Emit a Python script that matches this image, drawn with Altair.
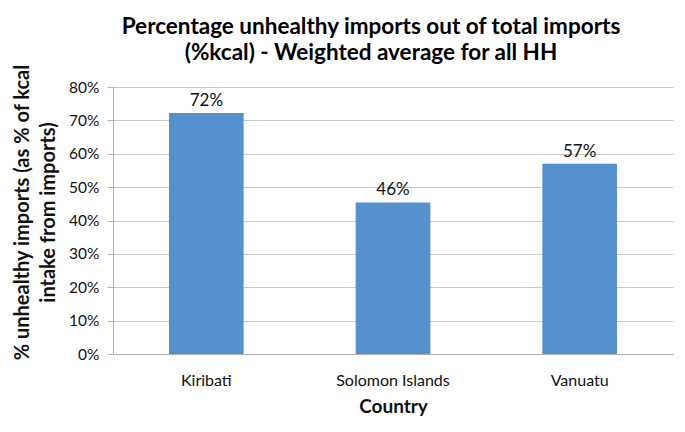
import altair as alt
import pandas as pd

countries = ["Kiribati", "Solomon Islands", "Vanuatu"]
shares = [0.722, 0.454, 0.570]
labels = ["72%", "46%", "57%"]

df = pd.DataFrame({"Country": countries, "Share": shares, "Label": labels})

FONT = "Lato"

base = alt.Chart(df).encode(
    x=alt.X(
        "Country:N",
        sort=countries,
        scale=alt.Scale(paddingInner=0.6, paddingOuter=0.3),
        axis=alt.Axis(
            title="Country",
            labelAngle=0,
            ticks=False,
            tickSize=0,
            labelBaseline="alphabetic",
            labelPadding=31,
            labelFontSize=16,
            labelFont=FONT,
            labelColor="#111",
            titleFont=FONT,
            titleFontSize=19,
            titleFontWeight="bold",
            titleColor="#111",
            titleBaseline="alphabetic",
            titleY=58,
            domainColor="#b0b0b0",
            grid=False,
        ),
    ),
    y=alt.Y(
        "Share:Q",
        scale=alt.Scale(domain=[0, 0.8], nice=False),
        axis=alt.Axis(
            title=["% unhealthy imports (as % of kcal", "intake from imports)"],
            format=".0%",
            values=[0, 0.1, 0.2, 0.3, 0.4, 0.5, 0.6, 0.7, 0.8],
            tickSize=6,
            tickColor="#b0b0b0",
            labelPadding=8,
            labelFontSize=15.5,
            labelFont=FONT,
            labelColor="#111",
            titleFont=FONT,
            titleFontSize=20,
            titleFontWeight="bold",
            titleColor="#111",
            titleAngle=-90,
            titleAlign="center",
            titleBaseline="top",
            titleX=-101,
            titleY=125,
            titleLineHeight=26,
            domainColor="#b0b0b0",
            gridColor="#c8c8c8",
        ),
    ),
)

bars = base.mark_bar(color="#5591CF")
text = base.mark_text(
    baseline="alphabetic", dy=-7, fontSize=17, font=FONT, color="#111"
).encode(text="Label:N")

chart = (
    (bars + text)
    .properties(
        width=560,
        height=267,
        title=alt.TitleParams(
            ["Percentage unhealthy imports out of total imports",
             "(%kcal) - Weighted average for all HH"],
            font=FONT,
            fontSize=22.5,
            fontWeight="bold",
            color="#000",
            anchor="middle",
            dx=-22,
            dy=16,
            offset=15,
            lineHeight=26,
        ),
        autosize=alt.AutoSizeParams(type="none"),
        padding={"left": 105, "top": 79, "right": 4, "bottom": 70},
    )
    .configure_view(stroke=None)
)

chart.save("out.html", embed_options={"renderer": "svg", "actions": False})
